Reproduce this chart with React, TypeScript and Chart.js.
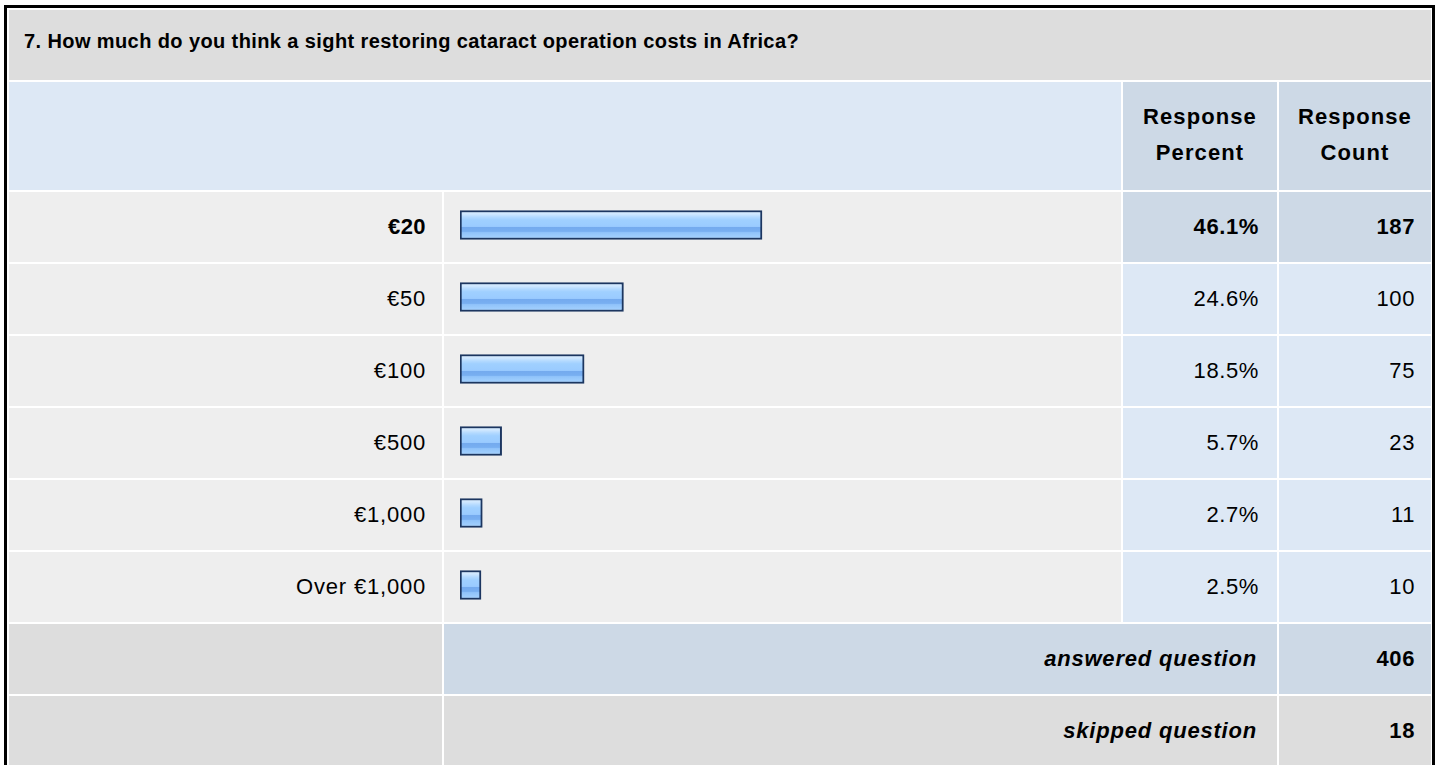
import React, { useEffect, useRef } from "react";
import { Chart, registerables } from "chart.js";

Chart.register(...registerables);

const questionTitle = "7. How much do you think a sight restoring cataract operation costs in Africa?";
const categories = ["€20", "€50", "€100", "€500", "€1,000", "Over €1,000"];
const percents = [46.1, 24.6, 18.5, 5.7, 2.7, 2.5];
const counts = [187, 100, 75, 23, 11, 10];
const percentHeader = ["Response", "Percent"];
const countHeader = ["Response", "Count"];
const answeredLabel = "answered question";
const skippedLabel = "skipped question";
const answeredCount = 406;
const skippedCount = 18;

const X_MIN = -0.76;
const X_MAX = 101.8;

const FONT = '"Liberation Sans", Arial, Helvetica, sans-serif';
const GREY = "#dddddd";
const ROW_GREY = "#eeeeee";
const LIGHT_BLUE = "#dde8f5";
const DARK_BLUE = "#cdd9e6";

const COL = {
  labelL: 9, labelR: 442,
  barL: 444, barR: 1121,
  pctL: 1123, pctR: 1277,
  cntL: 1279, cntR: 1431,
};
const TITLE_TOP = 10, TITLE_BOTTOM = 80;
const HEAD_TOP = 82, HEAD_BOTTOM = 190;
const ROW_TOP = 192, ROW_H = 70, ROW_GAP = 2;

function Cell(props: {
  l: number; r: number; t: number; b: number; bg: string;
  children?: React.ReactNode; align?: string; bold?: boolean; italic?: boolean;
  size?: number; ls?: number; pr?: number;
}) {
  const { l, r, t, b, bg, children, align = "right", bold, italic, size = 22, ls = 0.6, pr = 17 } = props;
  return (
    <div
      style={{
        position: "absolute",
        left: l,
        top: t,
        width: r - l,
        height: b - t,
        background: bg,
        display: "flex",
        alignItems: "center",
        justifyContent: align === "right" ? "flex-end" : align === "center" ? "center" : "flex-start",
        paddingRight: align === "right" ? pr : 0,
        boxSizing: "border-box",
        fontFamily: FONT,
        fontSize: size,
        fontWeight: bold ? "bold" : "normal",
        fontStyle: italic ? "italic" : "normal",
        letterSpacing: ls,
        color: "#000",
        whiteSpace: "nowrap",
      }}
    >
      {children}
    </div>
  );
}

export default function App() {
  const canvasRef = useRef<HTMLCanvasElement | null>(null);
  const maxIdx = percents.indexOf(Math.max(...percents));

  useEffect(() => {
    const canvas = canvasRef.current;
    if (!canvas) return;
    const chart = new Chart(canvas, {
      type: "bar",
      data: {
        labels: categories,
        datasets: [
          {
            data: percents,
            base: X_MIN,
            barThickness: 29,
            borderWidth: 2,
            borderColor: "#1c3660",
            borderSkipped: false,
            backgroundColor: (ctx: any) => {
              const c = ctx.chart;
              const ys = c.scales && c.scales.y;
              if (!c.chartArea || !ys || ctx.dataIndex === undefined) return "#9acbff";
              const cy = ys.getPixelForValue(ctx.dataIndex);
              const top = cy - 14.5;
              const g = c.ctx.createLinearGradient(0, top, 0, top + 29);
              g.addColorStop(0, "#d6ebff");
              g.addColorStop(0.12, "#d0e8ff");
              g.addColorStop(0.22, "#b4daff");
              g.addColorStop(0.32, "#a0d0ff");
              g.addColorStop(0.55, "#9acbff");
              g.addColorStop(0.58, "#74aaee");
              g.addColorStop(0.72, "#78aff1");
              g.addColorStop(0.76, "#90c3fa");
              g.addColorStop(1, "#a8d4ff");
              return g;
            },
          } as any,
        ],
      },
      options: {
        indexAxis: "y",
        animation: false,
        responsive: false,
        maintainAspectRatio: false,
        devicePixelRatio: 1,
        layout: { padding: { left: 16, right: 0, top: 0, bottom: 0 } },
        plugins: { legend: { display: false }, tooltip: { enabled: false } },
        scales: {
          x: { type: "linear", display: false, min: X_MIN, max: X_MAX },
          y: { type: "category", display: false },
        },
      } as any,
    });
    return () => chart.destroy();
  }, []);

  const rows = categories.map((cat, i) => {
    const t = ROW_TOP + i * (ROW_H + ROW_GAP);
    const b = t + ROW_H;
    const hi = i === maxIdx;
    return (
      <React.Fragment key={cat}>
        <Cell l={COL.labelL} r={COL.labelR} t={t} b={b} bg={ROW_GREY} bold={hi} pr={16} ls={hi ? 0.4 : 0.8}>
          {cat}
        </Cell>
        <Cell l={COL.barL} r={COL.barR} t={t} b={b} bg={ROW_GREY} />
        <Cell l={COL.pctL} r={COL.pctR} t={t} b={b} bg={hi ? DARK_BLUE : LIGHT_BLUE} bold={hi} pr={18}>
          {percents[i].toFixed(1) + "%"}
        </Cell>
        <Cell l={COL.cntL} r={COL.cntR} t={t} b={b} bg={hi ? DARK_BLUE : LIGHT_BLUE} bold={hi} pr={16}>
          {String(counts[i])}
        </Cell>
      </React.Fragment>
    );
  });

  const ansTop = ROW_TOP + categories.length * (ROW_H + ROW_GAP);
  const skTop = ansTop + ROW_H + ROW_GAP;

  return (
    <div style={{ position: "absolute", left: 0, top: 0, width: 1440, height: 765, overflow: "hidden", background: "#fff" }}>
      <div
        style={{
          position: "absolute",
          left: 4,
          top: 5,
          width: 1431,
          height: 820,
          border: "3px solid #000",
          boxSizing: "border-box",
          background: "#fff",
        }}
      />
      <Cell l={COL.labelL} r={COL.cntR} t={TITLE_TOP} b={TITLE_BOTTOM} bg={GREY} align="left" bold size={20} ls={0.4}>
        <span style={{ paddingLeft: 15, marginTop: -8 }}>{questionTitle}</span>
      </Cell>
      <Cell l={COL.labelL} r={COL.barR} t={HEAD_TOP} b={HEAD_BOTTOM} bg={LIGHT_BLUE} />
      <Cell l={COL.pctL} r={COL.pctR} t={HEAD_TOP} b={HEAD_BOTTOM} bg={DARK_BLUE} align="center" bold ls={1.1}>
        <div style={{ textAlign: "center", lineHeight: "36px", marginTop: -2 }}>
          {percentHeader[0]}
          <br />
          {percentHeader[1]}
        </div>
      </Cell>
      <Cell l={COL.cntL} r={COL.cntR} t={HEAD_TOP} b={HEAD_BOTTOM} bg={DARK_BLUE} align="center" bold ls={1.1}>
        <div style={{ textAlign: "center", lineHeight: "36px", marginTop: -2 }}>
          {countHeader[0]}
          <br />
          {countHeader[1]}
        </div>
      </Cell>
      {rows}
      <Cell l={COL.labelL} r={COL.labelR} t={ansTop} b={ansTop + ROW_H} bg={GREY} />
      <Cell l={COL.barL} r={COL.pctR} t={ansTop} b={ansTop + ROW_H} bg={DARK_BLUE} bold italic pr={20} ls={0.8}>
        {answeredLabel}
      </Cell>
      <Cell l={COL.cntL} r={COL.cntR} t={ansTop} b={ansTop + ROW_H} bg={DARK_BLUE} bold pr={16}>
        {String(answeredCount)}
      </Cell>
      <Cell l={COL.labelL} r={COL.labelR} t={skTop} b={skTop + ROW_H} bg={GREY} />
      <Cell l={COL.barL} r={COL.pctR} t={skTop} b={skTop + ROW_H} bg={GREY} bold italic pr={20} ls={0.8}>
        {skippedLabel}
      </Cell>
      <Cell l={COL.cntL} r={COL.cntR} t={skTop} b={skTop + ROW_H} bg={GREY} bold pr={16}>
        {String(skippedCount)}
      </Cell>
      <canvas
        ref={canvasRef}
        width={677}
        height={432}
        style={{ position: "absolute", left: COL.barL, top: 189, width: 677, height: 432 }}
      />
    </div>
  );
}
